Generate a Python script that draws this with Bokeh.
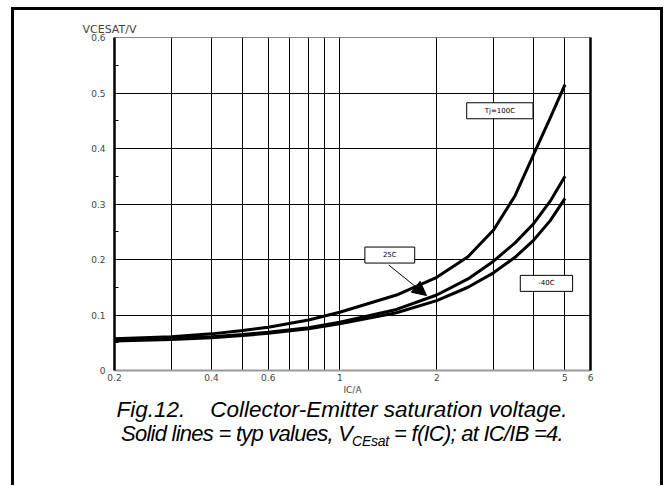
from bokeh.plotting import figure
from bokeh.models import (FixedTicker, Label, Arrow, NormalHead, LinearAxis, Range1d, Div)
from bokeh.layouts import column
from bokeh.embed import file_html
from bokeh.resources import INLINE

# ---- data ----
ic = [0.2, 0.3, 0.4, 0.5, 0.6, 0.8, 1.0, 1.5, 2.0, 2.5, 3.0, 3.5, 4.0, 4.5, 5.0]
v_100c = [0.057, 0.061, 0.066, 0.072, 0.078, 0.091, 0.105, 0.136, 0.168, 0.205, 0.253, 0.315, 0.39, 0.455, 0.515]
v_25c = [0.055, 0.058, 0.061, 0.065, 0.069, 0.077, 0.087, 0.11, 0.136, 0.165, 0.197, 0.23, 0.265, 0.305, 0.35]
v_m40c = [0.053, 0.056, 0.059, 0.063, 0.067, 0.075, 0.084, 0.104, 0.126, 0.15, 0.176, 0.204, 0.235, 0.27, 0.31]

x_tick_values = [0.2, 0.4, 0.6, 1, 2, 5, 6]
x_tick_labels = ["0.2", "0.4", "0.6", "1", "2", "5", "6"]
x_grid_values = [0.3, 0.4, 0.5, 0.6, 0.7, 0.8, 0.9, 1, 2, 3, 4, 5]
y_tick_values = [0, 0.1, 0.2, 0.3, 0.4, 0.5, 0.6]
y_tick_labels = ["0", "0.1", "0.2", "0.3", "0.4", "0.5", "0.6"]
y_minor_values = [0.05, 0.15, 0.25, 0.35, 0.45, 0.55]

curve_names = ["Tj=100C", "25C", "-40C"]
label_x = [3.14, 1.43, 4.38]
label_y = [0.468, 0.208, 0.157]
arrow_from = (1.42, 0.19)
arrow_to = (1.86, 0.135)

W, H = 646, 387
CAP_H = 88
p = figure(width=W, height=H, x_axis_type="log", output_backend="svg",
           toolbar_location=None, x_range=Range1d(0.2, 6), y_range=Range1d(0, 0.6),
           min_border_left=100, min_border_right=70, min_border_top=27, min_border_bottom=25,
           title="VCESAT/V")
p.title.text_font = "DejaVu Sans"
p.title.text_font_size = "11px"
p.title.text_font_style = "normal"
p.title.align = "left"
p.title.offset = -32
p.title.standoff = 3

p.outline_line_color = "#888888"
p.outline_line_width = 1

# axes
xa = p.xaxis[0]
xa.ticker = FixedTicker(ticks=x_tick_values)
xa.major_label_overrides = {v: l for v, l in zip(x_tick_values, x_tick_labels)}
xa.major_tick_in = 0
xa.major_tick_out = 0
xa.minor_tick_in = 0
xa.minor_tick_out = 0
xa.axis_line_color = "#999999"
xa.axis_line_width = 2
xa.major_label_text_font = "DejaVu Sans"
xa.major_label_text_font_size = "9px"
xa.major_label_standoff = 3
xa.axis_label = "IC/A"
xa.axis_label_text_font = "DejaVu Sans"
xa.axis_label_text_font_style = "normal"
xa.axis_label_text_font_size = "9px"
xa.axis_label_standoff = 1

ya = p.yaxis[0]
ya.ticker = FixedTicker(ticks=y_tick_values, minor_ticks=y_minor_values)
ya.major_label_overrides = {v: l for v, l in zip(y_tick_values, y_tick_labels)}
ya.major_tick_in = 0
ya.major_tick_out = 0
ya.minor_tick_in = 4
ya.minor_tick_out = 0
ya.minor_tick_line_color = "black"
ya.axis_line_color = "black"
ya.axis_line_width = 2.5
ya.major_label_text_font = "DejaVu Sans"
ya.major_label_text_font_size = "9px"
ya.major_label_standoff = 9

ra = LinearAxis(ticker=FixedTicker(ticks=[]), axis_line_width=2.5, axis_line_color="black",
                major_tick_in=0, major_tick_out=0, minor_tick_in=0, minor_tick_out=0,
                major_label_text_font_size="0px")
p.add_layout(ra, "right")

# grid
p.xgrid.ticker = FixedTicker(ticks=x_grid_values)
p.xgrid.grid_line_color = "black"
p.xgrid.grid_line_width = 1
p.ygrid.ticker = FixedTicker(ticks=[0.1, 0.2, 0.3, 0.4, 0.5])
p.ygrid.grid_line_color = "black"
p.ygrid.grid_line_width = 1

# curves
for ys in (v_100c, v_25c, v_m40c):
    p.line(ic, ys, line_color="black", line_width=3)

# curve labels
for name, lx, ly in zip(curve_names, label_x, label_y):
    p.add_layout(Label(x=lx, y=ly, text=name, text_align="center", text_baseline="middle",
                       text_font="DejaVu Sans", text_font_size="7px", text_color="black",
                       background_fill_color="white", border_line_color="black",
                       border_line_width=1, padding=(18, 4)))

p.add_layout(Arrow(x_start=arrow_from[0], y_start=arrow_from[1], x_end=arrow_to[0], y_end=arrow_to[1],
                   line_color="black", line_width=1,
                   end=NormalHead(size=14, fill_color="black", line_color="black")))

caption = Div(
    text=("<div>Fig.12.&nbsp;&nbsp;&nbsp; Collector-Emitter saturation voltage.</div>"
          "<div style='letter-spacing:-0.75px; font-size:22px'>Solid lines = typ values, "
          "V<sub style='font-size:14px; letter-spacing:-0.3px'>CEsat</sub> = f(IC); at IC/IB =4.</div>"),
    width=W, height=CAP_H,
    styles={"font-family": "'Liberation Sans', Arial, sans-serif", "font-style": "italic",
            "font-size": "22.5px", "line-height": "24px", "text-align": "center",
            "color": "black", "width": f"{W}px", "margin-top": "1px"})

frame_shadow = ("-3px 0 0 0 black, 3px 0 0 0 black, 0 -3px 0 0 black, "
                "-3px -3px 0 0 black, 3px -3px 0 0 black")
layout = column(p, caption, spacing=0, width=W, height=H + CAP_H,
                styles={"box-shadow": frame_shadow, "margin-left": "14px", "margin-top": "10px",
                        "width": f"{W}px"})

open("out.html", "w").write(file_html(layout, INLINE))
